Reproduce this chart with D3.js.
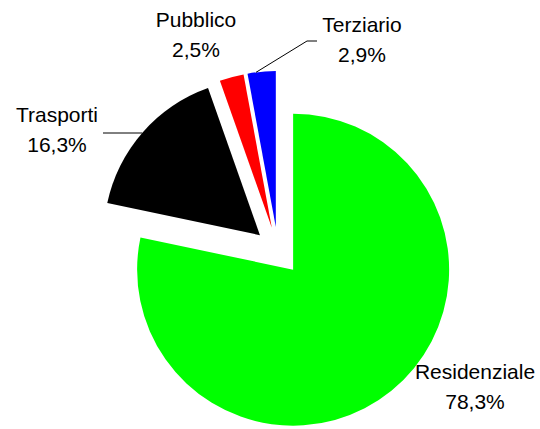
<!DOCTYPE html>
<html>
<head>
<meta charset="utf-8">
<script src="https://cdn.jsdelivr.net/npm/d3@7"></script>
<style>
  html, body { margin: 0; padding: 0; background: #fff; }
  text { font-family: "Liberation Sans", Arial, sans-serif; fill: #000; }
</style>
</head>
<body>
<div id="chart"></div>
<script>
// data
const categories = ['Residenziale', 'Trasporti', 'Pubblico', 'Terziario'];
const shares = [78.3, 16.3, 2.5, 2.9];
const sliceColors = ['#00ff00', '#000000', '#ff0000', '#0000ff'];

const width = 540;
const height = 429;
const radius = 156;
const explode = 24;
const cx = 278;
const cy = 251;

// label anchor (centre x, first baseline) per slice
const labelAnchors = [
  [475, 379],
  [57, 122],
  [196, 27],
  [362, 32]
];
const lineGap = 30;

const fmt = v => d3.format('.1f')(v).replace('.', ',') + '%';

const svg = d3.select('#chart').append('svg')
  .attr('width', width)
  .attr('height', height);

const pie = d3.pie().sort(null).value(d => d)(shares);
const arc = d3.arc().innerRadius(0).outerRadius(radius);

const g = svg.append('g').attr('transform', `translate(${cx},${cy})`);

// shift each slice out along its bisector
const shift = d => {
  const a = (d.startAngle + d.endAngle) / 2;
  return [Math.sin(a) * explode, -Math.cos(a) * explode];
};

g.selectAll('path.slice')
  .data(pie)
  .enter()
  .append('path')
  .attr('class', 'slice')
  .attr('d', arc)
  .attr('transform', d => `translate(${shift(d)})`)
  .style('fill', (d, i) => sliceColors[i]);

// leader lines
const polar = (d, ang, r) => {
  const s = shift(d);
  return [cx + s[0] + Math.sin(ang) * r, cy + s[1] - Math.cos(ang) * r];
};

// Trasporti: horizontal line to the arc
const tr = pie[1];
const ty = 133;
const tAng = 2 * Math.PI - Math.acos((cy + shift(tr)[1] - ty) / radius);
const tEdge = polar(tr, tAng, radius);
svg.append('polyline')
  .attr('points', [[103, ty], [tEdge[0], ty]].join(' '))
  .attr('fill', 'none')
  .attr('stroke', '#000')
  .attr('stroke-width', 1);

// Terziario: from slice top to label
const tz = pie[3];
const zEdge = polar(tz, tz.startAngle + (tz.endAngle - tz.startAngle) * 0.3, radius);
svg.append('polyline')
  .attr('points', [zEdge, [307, 41], [317, 41]].join(' '))
  .attr('fill', 'none')
  .attr('stroke', '#000')
  .attr('stroke-width', 1);

// labels
const labels = svg.selectAll('text.lbl')
  .data(pie)
  .enter()
  .append('text')
  .attr('class', 'lbl')
  .attr('text-anchor', 'middle')
  .style('font-size', '21px');

labels.append('tspan')
  .attr('x', (d, i) => labelAnchors[i][0])
  .attr('y', (d, i) => labelAnchors[i][1])
  .text((d, i) => categories[i]);

labels.append('tspan')
  .attr('x', (d, i) => labelAnchors[i][0])
  .attr('y', (d, i) => labelAnchors[i][1] + lineGap)
  .text((d, i) => fmt(shares[i]));
</script>
</body>
</html>
